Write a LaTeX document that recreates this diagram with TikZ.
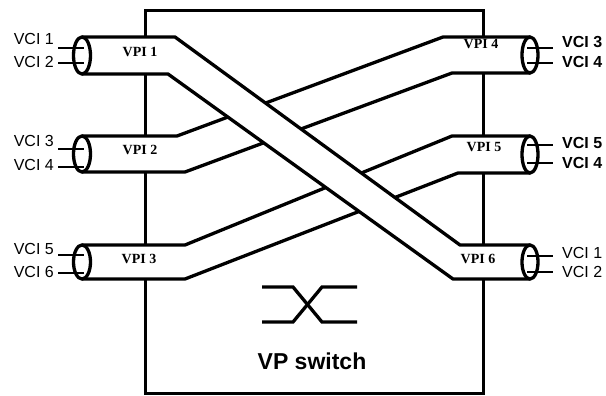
\documentclass[tikz,border=0pt]{standalone}
\usepackage{fontspec}
\setmainfont{Liberation Sans}
\newfontfamily\vpifont{Liberation Serif}
\begin{document}
\begin{tikzpicture}[x=1pt,y=-1pt,
  ln/.style={line width=3.3pt},
  boxline/.style={line width=3pt},
  vciline/.style={line width=2.3pt},
  vcil/.style={anchor=east,inner sep=0pt,font=\fontsize{16}{16}\selectfont},
  vcir/.style={anchor=west,inner sep=0pt,font=\fontsize{16}{16}\selectfont},
  vcirb/.style={anchor=west,inner sep=0pt,font=\fontsize{16}{16}\selectfont\bfseries},
  vpil/.style={inner sep=0pt,font=\fontsize{14}{14}\selectfont\vpifont\bfseries},
  tubeend/.style={line width=3.3pt,fill=white}]
\useasboundingbox (0,0) rectangle (606,396);
% switch box
\draw[boxline] (145,11) rectangle (483,393);
% band VPI2 -> VPI4
\fill[white] (82,136) -- (177,136) -- (443,37) -- (530,37) -- (530,73) -- (452,73) -- (185,172) -- (82,172) -- cycle;
\draw[ln] (82,136) -- (177,136) -- (443,37) -- (530,37);
\draw[ln] (82,172) -- (185,172) -- (452,73) -- (530,73);
% band VPI3 -> VPI5
\fill[white] (82,245) -- (185,245) -- (452,136) -- (530,136) -- (530,173) -- (458,173) -- (185,279) -- (82,279) -- cycle;
\draw[ln] (82,245) -- (185,245) -- (452,136) -- (530,136);
\draw[ln] (82,279) -- (185,279) -- (458,173) -- (530,173);
% band VPI1 -> VPI6 (on top)
\fill[white] (82,37) -- (175,37) -- (460,245) -- (530,245) -- (530,279) -- (453,279) -- (168,74) -- (82,74) -- cycle;
\draw[ln] (82,37) -- (175,37) -- (460,245) -- (530,245);
\draw[ln] (82,74) -- (168,74) -- (453,279) -- (530,279);
% tube end caps
\draw[tubeend] (82,55.5) ellipse [x radius=8.5pt, y radius=18.5pt];
\draw[tubeend] (82,154) ellipse [x radius=8.5pt, y radius=18pt];
\draw[tubeend] (82,262) ellipse [x radius=8.5pt, y radius=17pt];
\draw[tubeend] (530,55) ellipse [x radius=8pt, y radius=18pt];
\draw[tubeend] (530,154.5) ellipse [x radius=8pt, y radius=18.5pt];
\draw[tubeend] (530,262) ellipse [x radius=8pt, y radius=17pt];
% VCI lines left
\foreach \yy in {48,63,149,167,255,273} \draw[vciline] (58,\yy) -- (84,\yy);
% VCI lines right
\foreach \yy in {48,63,145,163,256,272} \draw[vciline] (527,\yy) -- (553,\yy);
% left labels
\node[vcil] (l1) at (54,39) {VCI 1};
\node[vcil] (l2) at (54,62) {VCI 2};
\node[vcil] (l3) at (54,141) {VCI 3};
\node[vcil] (l4) at (54,165) {VCI 4};
\node[vcil] (l5) at (54,249) {VCI 5};
\node[vcil] (l6) at (54,272) {VCI 6};
% right labels
\node[vcirb] (r1) at (562,42) {VCI 3};
\node[vcirb] (r2) at (562,62) {VCI 4};
\node[vcirb] (r3) at (562,143) {VCI 5};
\node[vcirb] (r4) at (562,163) {VCI 4};
\node[vcir] (r5) at (562,253) {VCI 1};
\node[vcir] (r6) at (562,272) {VCI 2};
% VPI labels
\node[vpil] (p1) at (140,52) {VPI 1};
\node[vpil] (p2) at (140,150) {VPI 2};
\node[vpil] (p3) at (139,259) {VPI 3};
\node[vpil] (p4) at (481,44) {VPI 4};
\node[vpil] (p5) at (484,147) {VPI 5};
\node[vpil] (p6) at (478,259) {VPI 6};
% switch symbol
\draw[ln] (262,287) -- (293,287) -- (322,322) -- (357,322);
\draw[ln] (262,322) -- (293,322) -- (322,287) -- (357,287);
\node[inner sep=0pt,font=\fontsize{23}{23}\selectfont\bfseries] (sw) at (312,361) {VP switch};
\end{tikzpicture}
\end{document}
